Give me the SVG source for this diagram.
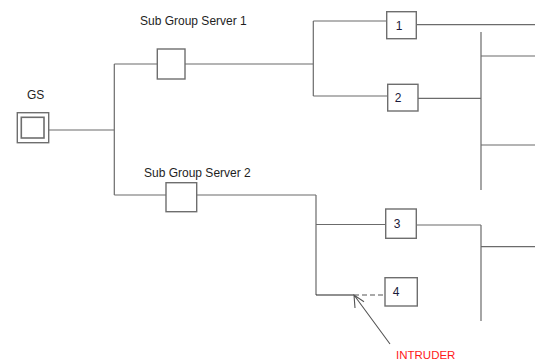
<svg xmlns="http://www.w3.org/2000/svg" width="535" height="362" viewBox="0 0 535 362">
<style>
  .ln { stroke: #6b6b6b; stroke-width: 1.2; fill: none; }
  .box { fill: #ffffff; stroke: #6e6e6e; stroke-width: 1.4; }
  .lbl { font-family: "Liberation Sans", Arial, sans-serif; font-size: 12px; fill: #1e1e1e; }
  .num { font-family: "Liberation Sans", Arial, sans-serif; font-size: 12px; fill: #1a1a3a; text-anchor: middle; }
  .red { font-family: "Liberation Sans", Arial, sans-serif; font-size: 11.5px; fill: #ff1a1a; }
</style>
<rect width="535" height="362" fill="#ffffff"/>
<g id="connectors">
  <path class="ln" d="M48.7 130 H114.3 M114.3 64 V195 M114.3 64 H157.3 M185 64 H313.3 M313.3 21 V96 M313.3 21 H386.7 M313.3 96 H387.7"/>
  <path class="ln" d="M416.3 24.7 H535 M418 98.3 H481 M481 32 V190 M481 56 H535 M481 145 H535"/>
  <path class="ln" d="M114.3 195 H166 M196.7 195 H316 M316 195 V295 M316 224.5 H385.7 M416.3 225 H481 M481 225 V321 M481 246.7 H535"/>
  <path d="M316 295 H354" stroke="#222" stroke-width="1.2" fill="none"/>
  <path d="M354 295 H385" stroke="#555" stroke-width="1.2" stroke-dasharray="5 3" fill="none"/>
  <path d="M390 344 L354 295 M364 301.7 L354 295 L355 308" stroke="#555" stroke-width="1.1" fill="none"/>
</g>
<g id="gs">
  <rect x="17.3" y="112.7" width="31.4" height="30" fill="#fff" stroke="#6e6e6e" stroke-width="1.4"/>
  <rect x="21.3" y="117.3" width="22.7" height="20.7" fill="#fff" stroke="#6e6e6e" stroke-width="1.6"/>
  <text class="lbl" x="27" y="99">GS</text>
</g>
<g id="sgs1">
  <rect class="box" x="157.3" y="49" width="27.7" height="30"/>
  <text class="lbl" x="140" y="25">Sub Group Server 1</text>
</g>
<g id="sgs2">
  <rect class="box" x="166" y="182.7" width="30.7" height="29"/>
  <text class="lbl" x="144" y="177">Sub Group Server 2</text>
</g>
<g id="n1">
  <rect class="box" x="386.7" y="11.7" width="29.6" height="27"/>
  <text class="num" x="399" y="30">1</text>
</g>
<g id="n2">
  <rect class="box" x="387.7" y="84.3" width="30.3" height="26.7"/>
  <text class="num" x="398" y="102">2</text>
</g>
<g id="n3">
  <rect class="box" x="385.7" y="209" width="30.6" height="29.3"/>
  <text class="num" x="397" y="228">3</text>
</g>
<g id="n4">
  <rect class="box" x="385" y="277.7" width="32.3" height="28.3"/>
  <text class="num" x="396" y="296">4</text>
</g>
<g id="intruder">
  <text class="red" x="396" y="359">INTRUDER</text>
</g>
</svg>
